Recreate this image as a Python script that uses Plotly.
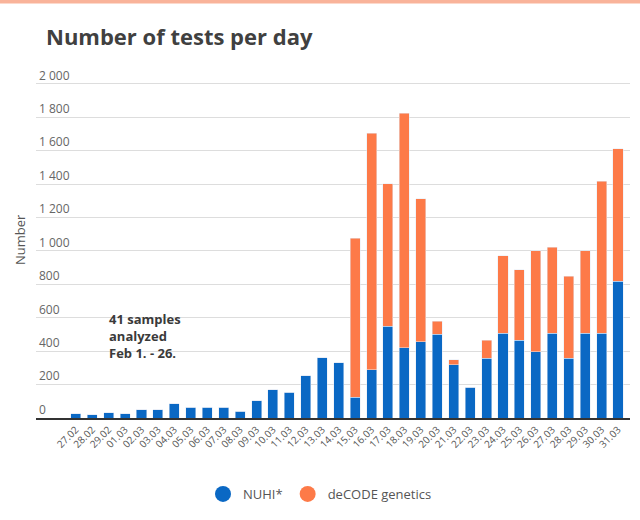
import plotly.graph_objects as go

dates = ["27.02", "28.02", "29.02", "01.03", "02.03", "03.03", "04.03", "05.03", "06.03",
         "07.03", "08.03", "09.03", "10.03", "11.03", "12.03", "13.03", "14.03", "15.03",
         "16.03", "17.03", "18.03", "19.03", "20.03", "21.03", "22.03", "23.03", "24.03",
         "25.03", "26.03", "27.03", "28.03", "29.03", "30.03", "31.03"]
nuhi = [26, 18, 32, 24, 48, 48, 86, 64, 64, 64, 40, 102, 170, 154, 254, 360, 330, 124,
        289, 548, 419, 456, 502, 319, 183, 359, 508, 464, 395, 508, 359, 508, 508, 817]
total = [26, 18, 32, 24, 48, 48, 86, 64, 64, 64, 40, 102, 170, 154, 254, 360, 330, 1076,
         1704, 1401, 1824, 1311, 578, 349, 183, 464, 971, 887, 1000, 1022, 849, 1000, 1417, 1612]
decode = [t - n for t, n in zip(total, nuhi)]

y_ticks = [0, 200, 400, 600, 800, 1000, 1200, 1400, 1600, 1800, 2000]
y_tick_labels = ["0", "200", "400", "600", "800", "1 000", "1 200", "1 400", "1 600", "1 800", "2 000"]

BLUE = "#0a68c4"
ORANGE = "#fd7a48"
FONT = "Open Sans"

PLOT_H = 520 - 67 - 102
PLOT_W = 640 - 36 - 10

fig = go.Figure()
fig.add_trace(go.Bar(x=dates, y=nuhi, name="NUHI*", marker_color=BLUE, showlegend=False))
fig.add_trace(go.Bar(x=dates, y=decode, name="deCODE genetics", marker_color=ORANGE, showlegend=False))
fig.add_trace(go.Scatter(x=[None], y=[None], mode="markers", name="NUHI*",
                         marker=dict(symbol="circle", size=20, color=BLUE)))
fig.add_trace(go.Scatter(x=[None], y=[None], mode="markers", name="deCODE genetics",
                         marker=dict(symbol="circle", size=20, color=ORANGE)))

fig.update_layout(
    width=640, height=520,
    barmode="stack", bargap=0.39,
    plot_bgcolor="white", paper_bgcolor="white",
    margin=dict(l=36, r=10, t=67, b=102, autoexpand=False),
    font=dict(family=FONT, color="#555555", size=12),
    title=dict(text="<b>Number of tests per day</b>", x=46 / 640, xref="container", xanchor="left",
               y=1 - 37 / 520, yref="container", yanchor="middle", automargin=False,
               font=dict(family=FONT, size=22, color="#404040")),
    legend=dict(orientation="h", x=0.5, xanchor="center", xref="container",
                y=26 / 520, yref="container", yanchor="middle", traceorder="normal",
                font=dict(family=FONT, size=13, color="#555555"),
                itemsizing="trace"),
    xaxis=dict(
        type="category", range=[-2.42, 33.73], automargin=False,
        tickangle=-45, tickfont=dict(size=10, color="#555555"),
        showline=True, linecolor="#333333", linewidth=2,
        showgrid=False, ticks="", fixedrange=True,
    ),
    yaxis=dict(
        range=[0, 2100], tickvals=y_ticks, ticktext=y_tick_labels, automargin=False,
        ticklabelposition="inside top", ticklabeloverflow="allow",
        tickfont=dict(size=12, color="#666666"),
        showgrid=True, gridcolor="#dddddd", gridwidth=1,
        zeroline=False, ticks="", fixedrange=True,
    ),
    annotations=[
        dict(text="<b>41 samples<br>analyzed<br>Feb 1. - 26.</b>",
             x=(107 - 36) / PLOT_W, xref="paper", y=(418 - 336) / PLOT_H, yref="paper",
             xanchor="left", yanchor="middle", align="left", showarrow=False,
             font=dict(family=FONT, size=13, color="#3a3a3a")),
        dict(text="Number", textangle=-90,
             x=(20 - 36) / PLOT_W, xref="paper", y=(418 - 240) / PLOT_H, yref="paper",
             xanchor="center", yanchor="middle", showarrow=False,
             font=dict(family=FONT, size=13, color="#555555")),
    ],
    shapes=[dict(type="rect", xref="paper", yref="paper", x0=-0.1, x1=1.1,
                 y0=1 + 63.5 / PLOT_H, y1=1 + 68 / PLOT_H, fillcolor="#f9b39a", line_width=0)],
)

fig.write_html("out.html", config={"displayModeBar": False},
               post_script="document.body.style.margin='0';document.body.style.overflow='hidden';")
